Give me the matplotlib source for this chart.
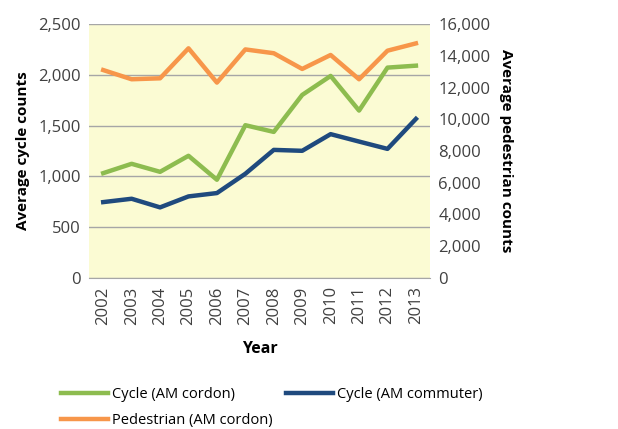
import matplotlib.pyplot as plt
from matplotlib.ticker import FuncFormatter

years = ['2002', '2003', '2004', '2005', '2006', '2007', '2008', '2009',
         '2010', '2011', '2012', '2013']
cycle_cordon = [1032, 1124, 1045, 1203, 967, 1504, 1438, 1802, 1989, 1648, 2071, 2090]
cycle_commuter = [747, 780, 695, 803, 836, 1026, 1261, 1252, 1416, 1343, 1271, 1566]
pedestrian = [13100, 12520, 12580, 14470, 12310, 14400, 14160, 13170, 14050, 12520, 14320, 14780]

plt.rcParams['font.family'] = ['Open Sans', 'DejaVu Sans']

fig = plt.figure(figsize=(6.18, 4.29), dpi=100)
ax = fig.add_axes([0.144, 0.352, 0.552, 0.592])
ax2 = ax.twinx()

ax.set_facecolor('#FBFBD3')
ax.set_zorder(ax2.get_zorder() - 1)
ax2.patch.set_visible(False)

x = range(len(years))
l1, = ax2.plot(x, cycle_cordon, color='#8DBC4F', lw=3.2, label='Cycle (AM cordon)',
               transform=ax.transData)
l2, = ax2.plot(x, cycle_commuter, color='#1F4A7E', lw=3.2, label='Cycle (AM commuter)',
               transform=ax.transData)
l3, = ax2.plot(x, pedestrian, color='#F7964A', lw=3.2, label='Pedestrian (AM cordon)')

ax.set_xlim(-0.5, len(years) - 0.5)
ax.set_ylim(0, 2500)
ax2.set_ylim(0, 16000)
ax.set_yticks(range(0, 2501, 500))
ax2.set_yticks(range(0, 16001, 2000))
fmt = FuncFormatter(lambda v, p: f'{int(v):,}')
ax.yaxis.set_major_formatter(fmt)
ax2.yaxis.set_major_formatter(fmt)
ax.set_xticks(list(x))
ax.set_xticklabels(years, rotation=90)

ax.grid(axis='y', color='#A6A6A6', lw=1)
ax.set_axisbelow(True)
for a in (ax, ax2):
    for s in a.spines.values():
        s.set_visible(False)
    a.tick_params(length=0, labelsize=12, colors='#404040', pad=6)
ax.spines['bottom'].set_visible(True)
ax.spines['bottom'].set_color('#A6A6A6')

ax.set_ylabel('Average cycle counts', fontsize=11, fontweight='bold', labelpad=6)
ax2.set_ylabel('Average pedestrian counts', fontsize=11, fontweight='bold',
               rotation=270, labelpad=16)
ax.set_xlabel('Year', fontsize=11.5, fontweight='bold', labelpad=12)

fig.legend(handles=[l1, l3, l2], loc='upper left', bbox_to_anchor=(0.09, 0.112),
           ncol=2, frameon=False, fontsize=10.5, handlelength=3.2,
           columnspacing=0.9, handletextpad=0.3, labelspacing=0.75,
           borderaxespad=0)

fig.savefig('out.png', dpi=100)
